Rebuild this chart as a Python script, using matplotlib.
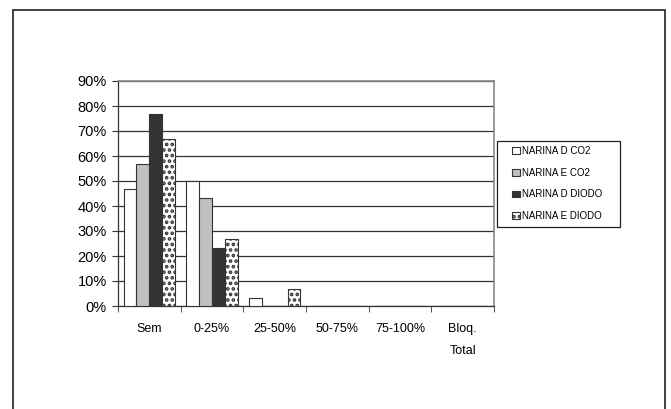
import numpy as np
import matplotlib
matplotlib.use('Agg')
import matplotlib.pyplot as plt
from matplotlib.patches import Rectangle

plt.rcParams['font.family'] = ['Liberation Sans', 'DejaVu Sans']
plt.rcParams['hatch.linewidth'] = 1.8

# Data
categories = ['Sem', '0-25%', '25-50%', '50-75%', '75-100%', 'Bloq.\nTotal']
series_names = ['NARINA D CO2', 'NARINA E CO2', 'NARINA D DIODO', 'NARINA E DIODO']
narina_d_co2 = [46.7, 50.0, 3.3, 0, 0, 0]
narina_e_co2 = [56.7, 43.3, 0, 0, 0, 0]
narina_d_diodo = [76.7, 23.3, 0, 0, 0, 0]
narina_e_diodo = [66.7, 26.7, 6.7, 0, 0, 0]
y_ticks = [0, 10, 20, 30, 40, 50, 60, 70, 80, 90]

fig = plt.figure(figsize=(6.71, 4.09), dpi=100)
ax = fig.add_axes([118 / 671, 1 - 306 / 409, 376 / 671, 225 / 409])

x = np.arange(len(categories))
w = 0.205
series = [narina_d_co2, narina_e_co2, narina_d_diodo, narina_e_diodo]
faces = ['white', '#c0c0c0', '#333333', 'white']
hatches = [None, None, None, '...']

for i, vals in enumerate(series):
    ax.bar(x + (i - 1.5) * w, vals, w, color=faces[i], edgecolor='#333333',
           linewidth=0.8, hatch=hatches[i], label=series_names[i], zorder=3)

ax.set_xlim(-0.5, len(categories) - 0.5)
ax.set_ylim(0, 90)
ax.set_yticks(y_ticks)
ax.set_yticklabels([f'{t}%' for t in y_ticks], fontsize=10.5)
ax.yaxis.grid(True, color='#333333', linewidth=0.9, zorder=0)
ax.set_axisbelow(True)

ax.set_xticks(x)
ax.set_xticklabels(categories, fontsize=9, va='top', linespacing=2.2)
ax.tick_params(axis='x', which='major', length=0, pad=12)
ax.set_xticks(np.arange(len(categories) + 1) - 0.5, minor=True)
ax.tick_params(axis='x', which='minor', length=4, color='#333333', direction='out')
ax.tick_params(axis='y', length=4, color='#333333', direction='out', pad=4)

for s in ['left', 'bottom']:
    ax.spines[s].set_color('#333333')
    ax.spines[s].set_linewidth(0.9)
for s in ['top', 'right']:
    ax.spines[s].set_color('#888888')
    ax.spines[s].set_linewidth(1.2)

# legend: entries without frame, box drawn separately
leg = fig.legend(loc='upper left', bbox_to_anchor=(512 / 671, 1 - 146 / 409),
                 fontsize=7, frameon=False,
                 handlelength=0.8, handleheight=0.7, handletextpad=0.25,
                 labelspacing=1.2, borderpad=0, borderaxespad=0)
fig.patches.append(Rectangle((497 / 671, 1 - 227 / 409), (620 - 497) / 671, (227 - 141) / 409,
                             transform=fig.transFigure, fill=False,
                             edgecolor='#222222', linewidth=0.9))

# outer frame
fig.patches.append(Rectangle((13 / 671, -0.05), (665 - 13) / 671, (1 - 10 / 409) + 0.05,
                             transform=fig.transFigure, fill=False,
                             edgecolor='#222222', linewidth=1.2))

fig.savefig('out.png', dpi=100)
